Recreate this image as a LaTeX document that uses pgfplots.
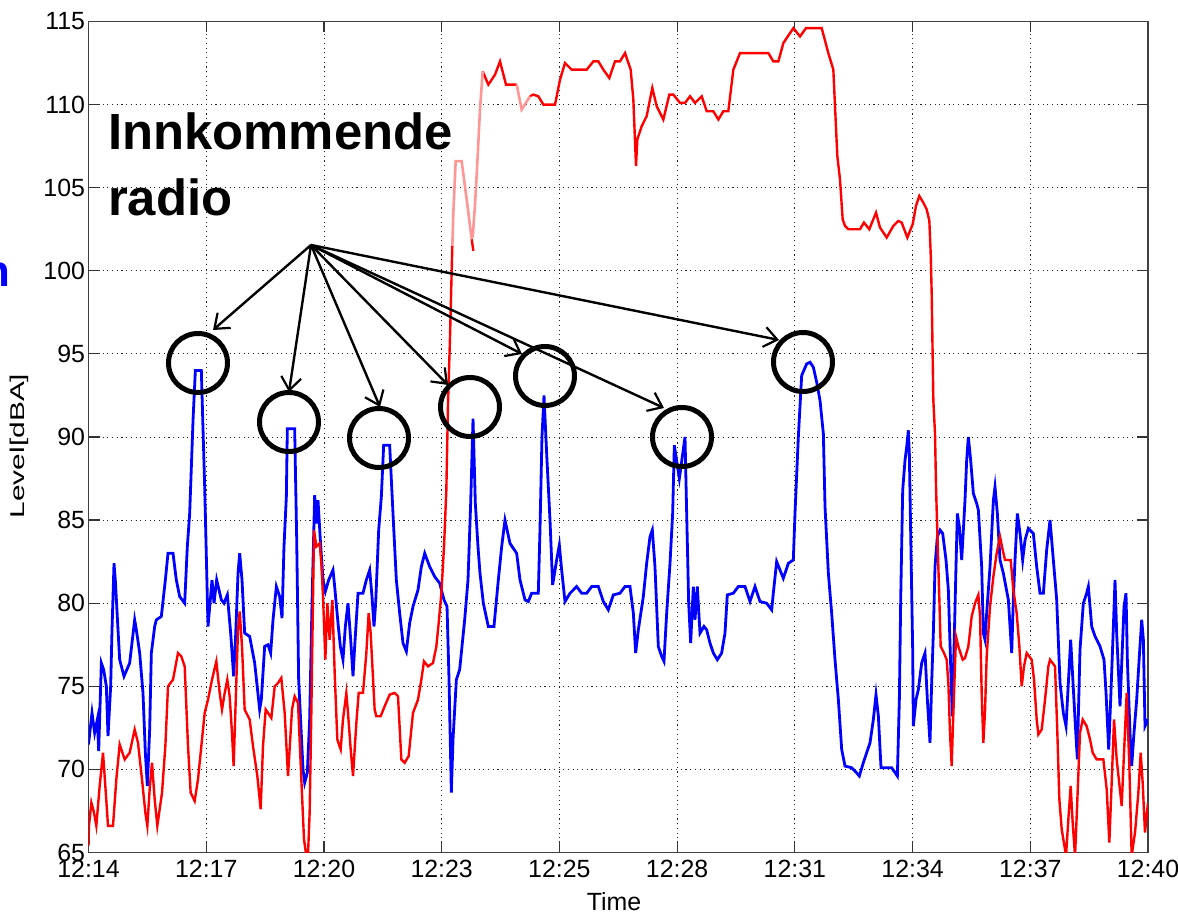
\documentclass[border=0pt]{standalone}
\usepackage{pgfplots}
\pgfplotsset{compat=1.18}
\usepackage{fontspec}
\setmainfont{Liberation Sans}
\usetikzlibrary{arrows.meta}
\definecolor{mblue}{RGB}{0,0,255}
\definecolor{mred}{RGB}{255,0,0}
\definecolor{mpink}{RGB}{255,150,150}
\begin{document}
\begin{tikzpicture}[x=1bp,y=1bp]
\useasboundingbox (0,0) rectangle (1178,916);
\begin{axis}[
  at={(88.5bp,63.5bp)}, anchor=south west, scale only axis,
  width=1059.5bp, height=831bp,
  xmin=0, xmax=26, ymin=65, ymax=115,
  xtick={0,2.88889,5.77778,8.66667,11.55556,14.44444,17.33333,20.22222,23.11111,26},
  xticklabels={12:14,12:17,12:20,12:23,12:25,12:28,12:31,12:34,12:37,12:40},
  ytick={65,70,...,115},
  grid=major,
  major grid style={black!85, line width=0.9bp, dash pattern=on 1.1bp off 3.6bp},
  tick align=inside, major tick length=11bp,
  axis line style={black!75, line width=1.4bp},
  tick style={black!80, line width=1.2bp},
  ticklabel style={font=\fontsize{25}{28}\selectfont},
  xticklabel style={yshift=-4bp},
  /pgf/number format/assume math mode=true,
  clip=true,
]
% blue series
\addplot[mblue, line width=2.8bp] coordinates {
(0,71.5)(0.086,73.4)(0.151,72.2)(0.217,73.0)(0.25,71.1)(0.315,76.4)(0.372,76.0)(0.438,75.0)(0.479,72.0)(0.544,75.0)
(0.577,78.4)(0.626,82.4)(0.658,81.4)(0.724,78.4)(0.765,76.6)(0.871,75.6)(1.010,76.4)(1.133,79.0)(1.174,78.4)(1.256,77.0)
(1.337,74.6)(1.395,71.0)(1.444,69.0)(1.501,72.4)(1.542,77.0)(1.624,78.6)(1.665,79.0)(1.787,79.2)(1.886,81.4)(1.951,83.0)
(2.074,83.0)(2.155,81.4)(2.237,80.4)(2.36,80.0)(2.425,83.4)(2.483,85.4)(2.565,91)(2.622,94.0)(2.769,94.0)(2.851,87)
(2.933,78.6)(3.031,81.4)(3.08,80.0)(3.145,81.4)(3.26,80.2)(3.325,80.0)(3.407,80.5)(3.489,78.2)(3.562,75.6)(3.61,78)
(3.669,81.8)(3.71,83.0)(3.767,81.4)(3.832,78.2)(3.955,78.0)(4.078,76.4)(4.2,73.6)(4.241,74.2)(4.323,77.4)(4.405,77.5)
(4.47,77.0)(4.528,79.0)(4.61,81.0)(4.691,80.4)(4.749,79.1)(4.797,83.4)(4.855,86.4)(4.879,90.5)(5.059,90.5)(5.108,84)
(5.157,75.4)(5.264,70.0)(5.305,69.2)(5.37,69.8)(5.427,73)(5.485,80)(5.55,86.5)(5.591,84.8)(5.632,86.2)(5.689,83.8)
(5.755,81.4)(5.812,80.7)(5.894,81.4)(6.0,82.0)(6.041,81.0)(6.123,78.8)(6.18,77.4)(6.245,76.6)(6.303,78.6)(6.368,80.0)
(6.434,77.8)(6.491,75.6)(6.532,77.4)(6.614,80.6)(6.736,80.6)(6.818,81.4)(6.9,82.0)(6.957,80.4)(7.006,78.6)(7.047,80.0)
(7.121,84.4)(7.186,86.4)(7.243,89.5)(7.391,89.5)(7.472,85.4)(7.554,81.4)(7.636,79.4)(7.718,77.6)(7.8,77.1)(7.881,78.8)
(7.963,79.8)(8.086,80.8)(8.168,82.2)(8.25,83.0)(8.372,82.2)(8.495,81.6)(8.618,81.2)(8.724,80.2)(8.798,79.8)(8.847,75.4)
(8.904,68.6)(8.945,71.8)(9.027,75.4)(9.108,76.0)(9.231,79.0)(9.313,81.4)(9.378,86)(9.436,91.1)(9.493,86)(9.558,83.4)
(9.607,81.8)(9.689,80.0)(9.811,78.6)(9.95,78.6)(10.057,81.4)(10.139,83.4)(10.22,85.0)(10.343,83.6)(10.507,83.0)(10.589,81.4)
(10.711,80.2)(10.793,80.1)(10.875,80.6)(11.038,80.6)(11.079,84.4)(11.128,90)(11.178,92.5)(11.243,89)(11.325,85)(11.39,81.1)
(11.488,82.6)(11.554,83.5)(11.611,82.0)(11.693,80.1)(11.816,80.6)(11.979,81.0)(12.102,80.6)(12.225,80.6)(12.347,81.0)(12.511,81.0)
(12.634,80.1)(12.756,79.6)(12.879,80.5)(13.043,80.6)(13.165,81.0)(13.288,81.0)(13.37,79.4)(13.427,77.0)(13.493,78.4)(13.615,80.4)
(13.697,82.4)(13.779,84.0)(13.836,84.4)(13.901,82.2)(13.983,77.4)(14.065,76.8)(14.122,76.5)(14.188,79.4)(14.27,82.4)(14.335,85.4)
(14.376,89.5)(14.499,87.5)(14.638,90.0)(14.679,85.4)(14.728,80)(14.777,77.6)(14.842,81.0)(14.883,79)(14.94,81.0)(15.006,78.2)
(15.104,78.6)(15.17,78.4)(15.251,77.6)(15.333,77.0)(15.431,76.6)(15.537,77.0)(15.619,78.2)(15.676,80.5)(15.824,80.6)(15.946,81.0)
(16.11,81.0)(16.233,80.1)(16.355,81.0)(16.478,80.1)(16.642,80.0)(16.765,79.6)(16.805,80.6)(16.887,82.5)(17.051,81.5)(17.174,82.4)
(17.296,82.6)(17.337,85.4)(17.419,90)(17.501,93.7)(17.624,94.4)(17.705,94.5)(17.787,94.2)(17.869,93.3)(17.951,92.2)(18.033,90.2)
(18.074,85.8)(18.156,81.8)(18.237,79.4)(18.319,76.6)(18.401,74.2)(18.483,71.2)(18.564,70.2)(18.728,70.1)(18.81,69.9)(18.916,69.6)
(19.014,70.4)(19.178,71.6)(19.26,73.0)(19.325,74.5)(19.383,73.2)(19.448,70.1)(19.71,70.1)(19.849,69.6)(19.898,74.2)(19.931,80.2)
(19.98,86.8)(20.037,88.6)(20.078,89.4)(20.119,90.4)(20.143,89.0)(20.176,84.2)(20.225,77.2)(20.241,72.6)(20.307,74.2)(20.364,74.8)
(20.446,76.4)(20.528,77.0)(20.585,74.2)(20.65,71.6)(20.691,75.2)(20.732,78.2)(20.773,82.2)(20.83,84.0)(20.896,84.4)(20.961,84.2)
(21.043,82.6)(21.1,80.8)(21.158,76.2)(21.198,73.2)(21.239,77.2)(21.288,82.2)(21.321,85.4)(21.37,84.6)(21.428,82.6)(21.509,86.2)
(21.55,88.6)(21.591,90.0)(21.648,88.6)(21.714,86.6)(21.796,86.0)(21.837,85.6)(21.918,82.2)(21.959,78.2)(22.0,77.8)(22.041,79.4)
(22.123,82.2)(22.205,86.2)(22.245,87.0)(22.303,85.4)(22.368,82.6)(22.45,81.8)(22.573,80.2)(22.655,77.0)(22.695,80.2)(22.736,82.6)
(22.794,85.4)(22.859,84.2)(22.924,82.6)(22.982,83.8)(23.063,84.5)(23.186,84.2)(23.268,82.2)(23.35,80.6)(23.432,80.6)(23.513,83.2)
(23.595,85.0)(23.677,82.6)(23.759,80.2)(23.841,75.2)(23.922,73.4)(23.988,72.6)(24.045,75.2)(24.102,77.8)(24.209,73.0)(24.266,70.6)
(24.29,73.2)(24.331,77.2)(24.413,80.0)(24.495,80.6)(24.536,81.0)(24.618,78.6)(24.7,78.0)(24.822,77.4)(24.92,76.6)(24.97,74.6)
(25.035,71.2)(25.084,74.2)(25.15,78.6)(25.19,81.4)(25.231,78.2)(25.313,73.8)(25.411,79.8)(25.46,80.6)(25.493,76.6)(25.558,72.2)
(25.599,70.2)(25.656,72.2)(25.722,74.2)(25.787,76.8)(25.845,79.0)(25.886,77.8)(25.926,72.6)(26,73.0)
};
% red series, dark parts
\addplot[mred, line width=2.4bp] coordinates {
(0,65.4)(0.012,66.6)(0.07,68.0)(0.135,67.4)(0.192,66.6)(0.274,69.0)(0.356,71.0)(0.413,69.0)(0.479,66.6)(0.601,66.6)
(0.683,69.4)(0.765,71.5)(0.888,70.6)(1.01,71.0)(1.133,72.4)(1.215,71.6)(1.313,69.4)(1.395,67.4)(1.444,66.6)(1.501,68.8)
(1.558,70.4)(1.624,68.2)(1.689,66.6)(1.804,68.6)(1.886,71.4)(1.951,75.0)(2.074,75.4)(2.196,77.0)(2.278,76.8)(2.36,76.2)
(2.442,71.4)(2.507,68.6)(2.605,68.1)(2.687,69.4)(2.769,71.4)(2.851,73.4)(2.933,74.2)(3.031,75.4)(3.137,76.5)(3.219,74.6)
(3.276,73.6)(3.342,74.6)(3.407,75.4)(3.464,74.4)(3.521,72.2)(3.562,70.2)(3.603,73.4)(3.669,78.4)(3.71,79.5)(3.767,77.4)
(3.832,73.6)(3.955,73.0)(4.037,71.4)(4.143,69.6)(4.225,67.6)(4.282,71.4)(4.348,73.6)(4.405,73.4)(4.487,73.1)(4.569,75.0)
(4.65,75.2)(4.732,75.5)(4.814,73.4)(4.896,69.6)(4.994,73.6)(5.059,74.4)(5.141,74.0)(5.223,69.4)(5.288,65.8)(5.346,64.8)
(5.387,64.9)(5.427,67.4)(5.468,73.4)(5.534,84.4)(5.591,83.4)(5.673,83.6)(5.714,82.4)(5.755,80.4)(5.812,76.6)(5.861,80.0)
(5.918,77.8)(5.984,80.2)(6.041,75.8)(6.106,71.8)(6.188,71.2)(6.245,73.0)(6.327,74.6)(6.368,73.4)(6.434,71.2)(6.491,69.6)
(6.573,72.8)(6.63,74.6)(6.736,74.6)(6.818,77.0)(6.875,79.4)(6.924,78.2)(7.022,73.6)(7.063,73.2)(7.169,73.2)(7.268,73.8)
(7.391,74.5)(7.513,74.6)(7.595,74.4)(7.677,70.6)(7.759,70.4)(7.857,70.8)(7.963,73.4)(8.086,74.2)(8.168,75.4)(8.233,76.5)
(8.331,76.2)(8.454,76.4)(8.536,77.4)(8.593,78.8)(8.659,80.6)(8.724,83.4)(8.781,86.8)(8.822,92)(8.871,96)(8.928,101.5)
};
\addplot[mred, line width=2.4bp] coordinates {(9.403,101.9)(9.444,101.2)};
\addplot[mred, line width=2.4bp] coordinates {
(9.673,112)(9.812,111.2)(9.976,111.8)(10.098,112.6)(10.245,111.2)(10.507,111.2)
};
\addplot[mred, line width=2.4bp] coordinates {
(10.834,110.5)(10.916,110.6)(11.039,110.5)(11.162,110.0)(11.448,110.0)(11.571,111.5)(11.693,112.5)(11.857,112.1)(12.225,112.1)(12.389,112.6)
(12.511,112.6)(12.634,112.1)(12.781,111.6)(12.92,112.6)(13.043,112.6)(13.166,113.1)(13.305,112.1)(13.37,110.3)(13.436,106.3)(13.468,107.9)
(13.575,108.7)(13.697,109.3)(13.836,111.0)(13.943,109.9)(14.106,109.1)(14.254,110.6)(14.352,110.6)(14.515,110.1)(14.638,110.1)(14.761,110.5)
(14.884,110.1)(15.047,110.5)(15.17,109.6)(15.333,109.6)(15.456,109.1)(15.579,109.6)(15.701,109.6)(15.824,112.1)(15.988,113.1)(16.683,113.1)
(16.806,112.6)(16.929,112.6)(17.051,113.7)(17.297,114.6)(17.46,114.1)(17.607,114.6)(17.992,114.6)(18.155,113.1)(18.278,112.1)(18.319,109.9)
(18.376,106.9)(18.441,105.5)(18.507,103.1)(18.564,102.7)(18.646,102.5)(18.932,102.5)(19.03,102.9)(19.161,102.5)(19.325,103.5)(19.423,102.6)
(19.587,102.0)(19.75,102.7)(19.873,103.0)(19.955,102.9)(20.094,102.0)(20.225,102.8)(20.306,103.9)(20.388,104.5)(20.486,104.1)(20.568,103.7)
(20.634,103.0)(20.666,101.1)(20.691,98.7)(20.732,92.2)(20.773,90.2)(20.798,87.0)(20.83,84.2)(20.88,80.2)(20.912,77.4)(20.994,77.0)
(21.059,76.6)(21.1,75.2)(21.141,72.2)(21.182,70.2)(21.207,72.2)(21.239,74.5)(21.288,78.0)(21.346,77.4)(21.452,76.6)(21.509,76.7)
(21.591,77.4)(21.673,79.2)(21.755,80.0)(21.837,80.5)(21.878,79.2)(21.918,74.6)(21.959,71.6)(22.0,73.5)(22.041,76.8)(22.123,79.8)
(22.205,81.6)(22.286,83.0)(22.368,84.0)(22.434,83.2)(22.491,82.6)(22.63,82.6)(22.695,80.8)(22.777,79.4)(22.843,77.4)(22.9,75.0)
(22.957,76.2)(23.023,77.0)(23.145,76.6)(23.203,75.4)(23.268,73.0)(23.309,72.1)(23.391,72.4)(23.473,74.2)(23.554,76.2)(23.595,76.6)
(23.718,76.2)(23.775,72.2)(23.824,68.2)(23.882,66.4)(23.988,64.8)(24.045,67)(24.102,69.0)(24.151,66.8)(24.209,64.8)(24.25,67.2)
(24.331,72.2)(24.397,73.0)(24.495,72.6)(24.577,71.8)(24.642,71.0)(24.74,70.6)(24.904,70.6)(24.986,68.8)(25.051,65.6)(25.108,69.2)
(25.166,73.0)(25.231,70.6)(25.354,67.8)(25.411,71.0)(25.477,74.6)(25.542,70.2)(25.599,64.8)(25.681,66.2)(25.763,68.6)(25.82,71.0)
(25.869,69.2)(25.926,66.2)(26,68.0)
};
% red series, light parts
\addplot[mpink, line width=2.6bp] coordinates {
(8.928,101.5)(8.953,103.5)(9.01,106.6)(9.157,106.6)(9.28,104.3)(9.403,101.9)
};
\addplot[mpink, line width=2.6bp] coordinates {
(9.427,102.0)(9.485,104)(9.542,106.5)(9.607,109.7)(9.673,112)
};
\addplot[mpink, line width=2.6bp] coordinates {
(10.507,111.2)(10.63,109.7)(10.834,110.5)
};
\end{axis}
% annotations
\node[anchor=base west, inner sep=0, font=\fontsize{51}{60}\selectfont\bfseries] at (108,766) {Innkommende};
\node[anchor=base west, inner sep=0, font=\fontsize{51}{60}\selectfont\bfseries] at (108,700) {radio};
\node[anchor=base east, inner sep=0, text=mblue, font=\fontsize{44}{50}\selectfont\bfseries] at (10,629) {n};
\node[rotate=90, inner sep=0, font=\fontsize{20}{24}\selectfont] at (19,470) {\scalebox{1.5}[1]{Level[dBA]}};
\node[anchor=base, inner sep=0, font=\fontsize{25}{28}\selectfont] at (614,5) {Time};
\begin{scope}[line width=5bp, black]
\draw (198,553) circle (29.5);
\draw (289,494) circle (29.5);
\draw (379,478) circle (29.5);
\draw (470,509) circle (29.5);
\draw (545,540) circle (29.5);
\draw (682,479) circle (29.5);
\draw (803,554) circle (29.5);
\end{scope}
\begin{scope}[line width=2.4bp, black, -{Straight Barb[length=13bp,width=20bp,line width=2.2bp]}]
\draw (311,671) -- (213,586);
\draw (311,671) -- (289,524);
\draw (311,671) -- (380,509);
\draw (311,671) -- (448,531);
\draw (311,671) -- (522,562);
\draw (311,671) -- (664,508);
\draw (311,671) -- (779,576);
\end{scope}
\end{tikzpicture}
\end{document}
